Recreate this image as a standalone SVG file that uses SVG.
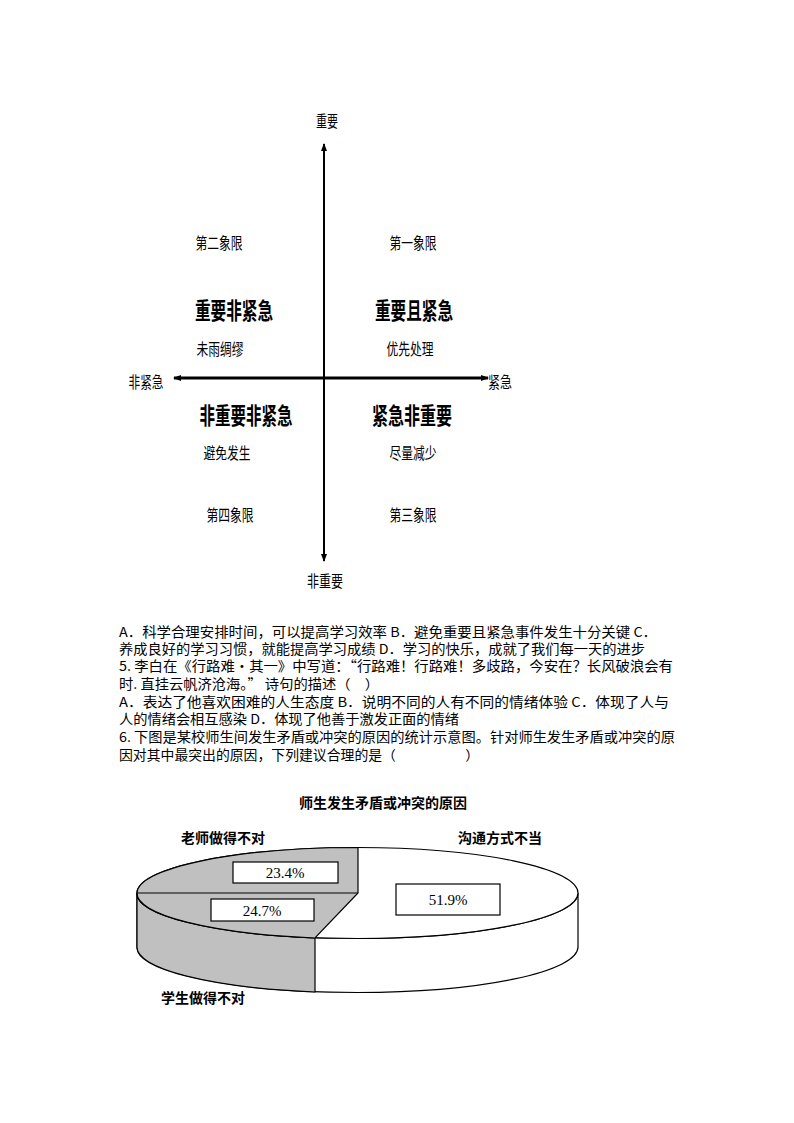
<svg xmlns="http://www.w3.org/2000/svg" width="794" height="1123" viewBox="0 0 794 1123">
<style>
text{font-family:"Noto Sans CJK SC","Noto Sans",sans-serif;fill:#000}
.q{font-size:16px;text-anchor:middle}
.b{font-size:23px;font-weight:bold;text-anchor:middle}
.t{font-size:13.5px}
.p{font-family:"Liberation Serif",serif;font-size:15px;text-anchor:middle}
.pl{font-size:14px;font-weight:bold;text-anchor:middle}
.ax{stroke:#000;fill:none}
</style>
<defs>
<marker id="a" markerWidth="8" markerHeight="8" refX="7" refY="4" orient="auto" markerUnits="userSpaceOnUse"><path d="M0,1 L8,4 L0,7 Z" fill="#000"/></marker>
</defs>
<rect width="794" height="1123" fill="#fff"/>
<g id="connectors">
<line class="ax" x1="324" y1="378" x2="324" y2="144" stroke-width="2" marker-end="url(#a)"/>
<line class="ax" x1="324" y1="378" x2="324" y2="561" stroke-width="2" marker-end="url(#a)"/>
<line class="ax" x1="324" y1="378" x2="174" y2="378" stroke-width="3" marker-end="url(#a)"/>
<line class="ax" x1="324" y1="378" x2="488" y2="378" stroke-width="3" marker-end="url(#a)"/>
</g>
<g id="axis-labels">
<text class="q" x="327" y="127" textLength="22" lengthAdjust="spacingAndGlyphs">重要</text>
<text class="q" x="325" y="587" textLength="36" lengthAdjust="spacingAndGlyphs">非重要</text>
<text class="q" x="146" y="388" textLength="35" lengthAdjust="spacingAndGlyphs">非紧急</text>
<text class="q" x="500" y="388" textLength="24" lengthAdjust="spacingAndGlyphs">紧急</text>
</g>
<g id="q2"><text class="q" x="219" y="249" textLength="47" lengthAdjust="spacingAndGlyphs">第二象限</text><text class="b" x="234" y="319" textLength="78" lengthAdjust="spacingAndGlyphs">重要非紧急</text><text class="q" x="220" y="355" textLength="47" lengthAdjust="spacingAndGlyphs">未雨绸缪</text></g>
<g id="q1"><text class="q" x="413" y="249" textLength="47" lengthAdjust="spacingAndGlyphs">第一象限</text><text class="b" x="414" y="319" textLength="78" lengthAdjust="spacingAndGlyphs">重要且紧急</text><text class="q" x="410" y="355" textLength="47" lengthAdjust="spacingAndGlyphs">优先处理</text></g>
<g id="q4"><text class="b" x="246" y="424" textLength="93" lengthAdjust="spacingAndGlyphs">非重要非紧急</text><text class="q" x="227" y="459" textLength="47" lengthAdjust="spacingAndGlyphs">避免发生</text><text class="q" x="230" y="521" textLength="47" lengthAdjust="spacingAndGlyphs">第四象限</text></g>
<g id="q3"><text class="b" x="412" y="424" textLength="80" lengthAdjust="spacingAndGlyphs">紧急非重要</text><text class="q" x="413" y="459" textLength="47" lengthAdjust="spacingAndGlyphs">尽量减少</text><text class="q" x="413" y="521" textLength="47" lengthAdjust="spacingAndGlyphs">第三象限</text></g>
<g id="question">
<text class="t" x="119" y="637" textLength="538" lengthAdjust="spacingAndGlyphs">A．科学合理安排时间，可以提高学习效率 B．避免重要且紧急事件发生十分关键 C．</text>
<text class="t" x="119" y="654" textLength="526" lengthAdjust="spacingAndGlyphs">养成良好的学习习惯，就能提高学习成绩 D．学习的快乐，成就了我们每一天的进步</text>
<text class="t" x="119" y="671" textLength="554" lengthAdjust="spacingAndGlyphs">5. 李白在《行路难·其一》中写道：“行路难！行路难！多歧路，今安在？长风破浪会有</text>
<text class="t" x="119" y="689" textLength="260" lengthAdjust="spacingAndGlyphs">时. 直挂云帆济沧海。” 诗句的描述（　）</text>
<text class="t" x="119" y="707" textLength="550" lengthAdjust="spacingAndGlyphs">A．表达了他喜欢困难的人生态度 B．说明不同的人有不同的情绪体验 C．体现了人与</text>
<text class="t" x="119" y="724" textLength="340" lengthAdjust="spacingAndGlyphs">人的情绪会相互感染 D．体现了他善于激发正面的情绪</text>
<text class="t" x="119" y="742" textLength="556" lengthAdjust="spacingAndGlyphs">6. 下图是某校师生间发生矛盾或冲突的原因的统计示意图。针对师生发生矛盾或冲突的原</text>
<text class="t" x="119" y="760" textLength="360" lengthAdjust="spacingAndGlyphs">因对其中最突出的原因，下列建议合理的是（　　　　　）</text>
</g>
<g id="pie" stroke="#000" stroke-width="1.2">
<path d="M137,893 A220.5,45.5 0 0 0 578,893 L578,947 A220.5,45.5 0 0 1 137,947 Z" fill="#fff"/>
<path d="M137,893 A220.5,45.5 0 0 0 315,938 L315,992 A220.5,45.5 0 0 1 137,947 Z" fill="#c0c0c0"/>
<ellipse cx="357.5" cy="893" rx="220.5" ry="45.5" fill="#fff"/>
<path d="M358,893 L358,847.5 A220.5,45.5 0 0 0 137,893 A220.5,45.5 0 0 0 315,938 Z" fill="#c0c0c0"/>
<line x1="137" y1="893" x2="358" y2="893"/>
<rect x="233" y="862" width="105" height="21" fill="#fff"/>
<rect x="211" y="899" width="103" height="22" fill="#fff"/>
<rect x="396" y="884" width="104" height="31" fill="#fff"/>
</g>
<g id="pie-labels">
<text class="pl" x="383" y="808">师生发生矛盾或冲突的原因</text>
<text class="pl" x="223" y="843">老师做得不对</text>
<text class="pl" x="500" y="843">沟通方式不当</text>
<text class="pl" x="203" y="1003">学生做得不对</text>
<text class="p" x="285" y="878">23.4%</text>
<text class="p" x="262" y="916">24.7%</text>
<text class="p" x="448" y="905">51.9%</text>
</g>
</svg>
